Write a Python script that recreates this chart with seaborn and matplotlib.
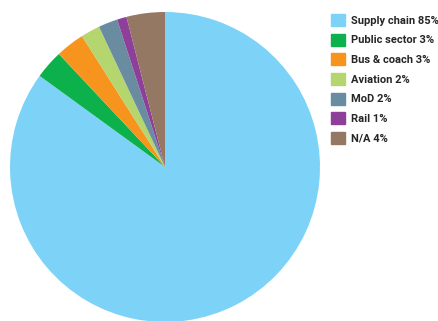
import matplotlib
matplotlib.use('Agg')
import matplotlib.pyplot as plt
import matplotlib.patches as mpatches
import seaborn as sns

categories = ['Supply chain', 'Public sector', 'Bus & coach', 'Aviation', 'MoD', 'Rail', 'N/A']
shares = [85, 3, 3, 2, 2, 1, 4]
colours = ['#7dd3f7', '#0db14b', '#f7941d', '#b5d56f', '#6a8ca0', '#8e3f99', '#957863']


def main():
    sns.set_theme(style='white')
    plt.rcParams['font.family'] = ['Roboto', 'DejaVu Sans']

    fig = plt.figure(figsize=(4.39, 3.21), dpi=100)
    ax = fig.add_axes([10 / 439, -1 / 321, 310 / 439, 310 / 321])

    ax.pie(shares, colors=colours, startangle=90, counterclock=False,
           radius=1, wedgeprops={'linewidth': 0})
    ax.set_xlim(-1, 1)
    ax.set_ylim(-1, 1)
    ax.set_aspect('equal')
    ax.axis('off')

    handles = [mpatches.Patch(color=c, label=f'{n} {v}%')
               for n, v, c in zip(categories, shares, colours)]
    fig.legend(handles=handles, loc='upper left',
               bbox_to_anchor=(331 / 439, 1 - 14 / 321),
               frameon=False, borderpad=0, borderaxespad=0,
               handlelength=1.3, handleheight=1.3, handletextpad=0.5,
               labelspacing=0.68, prop={'weight': 'bold', 'size': 8})

    fig.savefig('out.png', dpi=100)
    plt.close(fig)


if __name__ == '__main__':
    main()
